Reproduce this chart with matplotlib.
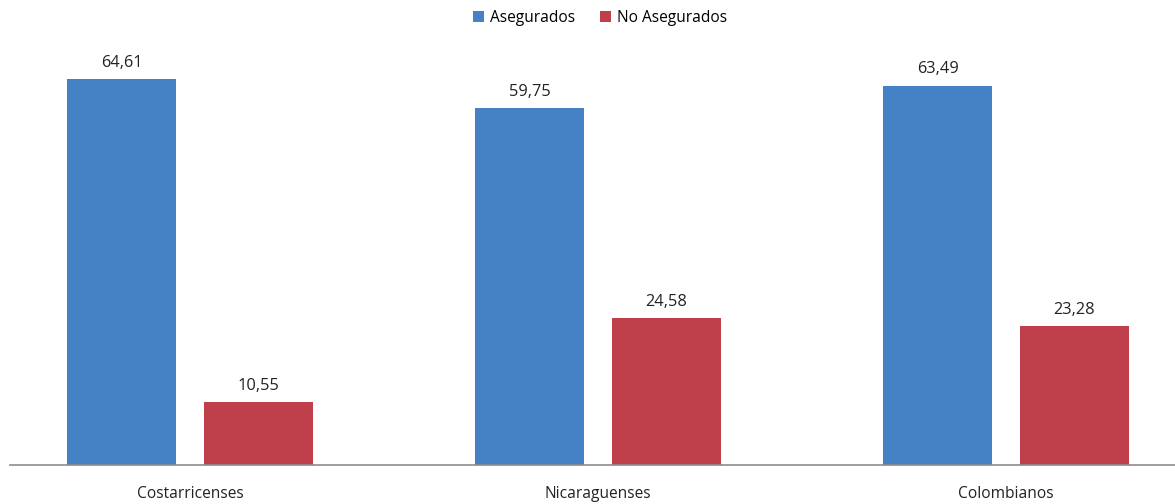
import matplotlib

matplotlib.use("Agg")
import matplotlib.pyplot as plt
import numpy as np

categories = ["Costarricenses", "Nicaraguenses", "Colombianos"]
asegurados = [64.61, 59.75, 63.49]
no_asegurados = [10.55, 24.58, 23.28]
series_names = ["Asegurados", "No Asegurados"]

BLUE = "#4481C5"
RED = "#BF3F4B"

plt.rcParams["font.family"] = ["Open Sans", "DejaVu Sans"]

fig = plt.figure(figsize=(11.75, 5.04), dpi=100)
ax = fig.add_axes([0.0085, 0.0774, 0.9915, 0.845])

x = np.arange(len(categories))
w = 0.267
off = 0.167
b1 = ax.bar(x - off, asegurados, w, color=BLUE, label=series_names[0])
b2 = ax.bar(x + off, no_asegurados, w, color=RED, label=series_names[1])

for bars, vals in [(b1, asegurados), (b2, no_asegurados)]:
    for r, v in zip(bars, vals):
        ax.annotate(f"{v:.2f}".replace(".", ","), (r.get_x() + r.get_width() / 2, v),
                    xytext=(0, 6), textcoords="offset points", ha="center", va="bottom",
                    fontsize=11.8, color="#222222")

ax.set_xlim(-0.441, 2.414)
ax.set_ylim(0, 71.3)
ax.set_xticks(x)
ax.set_xticklabels(categories, fontsize=11.2, color="#222222")
ax.tick_params(axis="x", length=0, pad=15)
ax.set_yticks([])
for s in ["top", "right", "left"]:
    ax.spines[s].set_visible(False)
ax.spines["bottom"].set_color("#8c8c8c")
ax.spines["bottom"].set_linewidth(1.2)

fig.legend(loc="upper center", bbox_to_anchor=(0.511, 1.008), ncol=2, frameon=False,
           fontsize=11.2, handlelength=0.7, handleheight=0.7, handletextpad=0.4,
           columnspacing=1.6)

fig.savefig("out.png", dpi=100)
